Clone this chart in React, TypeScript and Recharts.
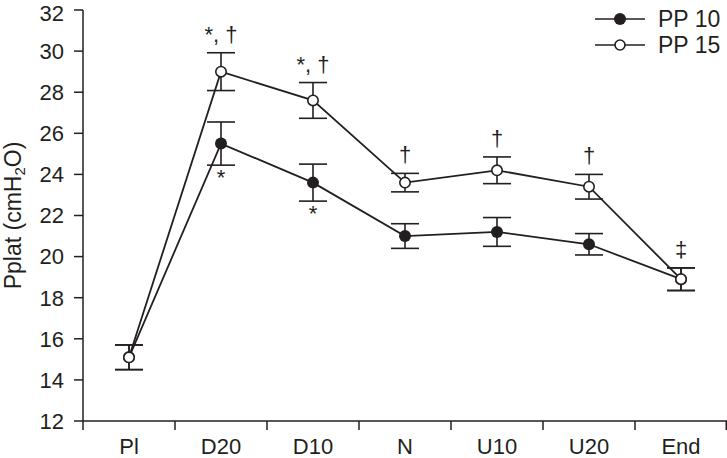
import { LineChart, Line, XAxis, YAxis, ErrorBar, LabelList, Label } from "recharts";

const categories = ["Pl", "D20", "D10", "N", "U10", "U20", "End"];
const pp10 = [15.1, 25.5, 23.6, 21.0, 21.2, 20.6, 18.9];
const pp10Err = [0.6, 1.05, 0.9, 0.6, 0.7, 0.52, 0.55];
const pp15 = [15.1, 29.0, 27.6, 23.6, 24.2, 23.4, 18.9];
const pp15Err = [0.6, 0.92, 0.87, 0.45, 0.65, 0.6, 0.55];
const sig10 = ["", "*", "*", "", "", "", ""];
const sig15 = ["", "*, †", "*, †", "†", "†", "†", "‡"];
const yTicks = [12, 14, 16, 18, 20, 22, 24, 26, 28, 30, 32];
const seriesNames = ["PP 10", "PP 15"];

const INK = "#231f20";
const FONT = "'Liberation Sans', Arial, sans-serif";
const TICK_GAP = 17;

const data = categories.map((cat, i) => ({
  cat,
  pp10: pp10[i],
  pp10Err: pp10Err[i],
  pp15: pp15[i],
  pp15Err: pp15Err[i],
  low10: pp10[i] - pp10Err[i],
  top15: pp15[i] + pp15Err[i],
  sig10: sig10[i],
  sig15: sig15[i],
}));

const FilledDot = (props: any) => {
  const { cx, cy } = props;
  return <circle cx={cx} cy={cy} r={6} fill={INK} stroke="none" />;
};

const OpenDot = (props: any) => {
  const { cx, cy } = props;
  return <circle cx={cx} cy={cy} r={5.2} fill="#fff" stroke={INK} strokeWidth={1.6} />;
};

// category label in the band centre, tick marks on the band edges
const CatTick = (props: any) => {
  const { x, y, payload, index, visibleTicksCount } = props;
  const half = payload.offset || 0;
  const axisY = y - TICK_GAP;
  const last = index === (visibleTicksCount ?? categories.length) - 1;
  return (
    <g>
      <line x1={x - half} y1={axisY} x2={x - half} y2={axisY + 9} stroke={INK} strokeWidth={1.5} />
      {last && <line x1={x + half - 0.75} y1={axisY} x2={x + half - 0.75} y2={axisY + 9} stroke={INK} strokeWidth={1.5} />}
      <text x={x} y={y} dy="0.71em" textAnchor="middle" fontSize={22} fontFamily={FONT} fill={INK}>
        {payload.value}
      </text>
    </g>
  );
};

const YLabel = (props: any) => {
  const { viewBox } = props;
  const cy = viewBox.y + viewBox.height / 2;
  const cx = 13;
  return (
    <text
      x={cx}
      y={cy}
      transform={`rotate(-90, ${cx}, ${cy})`}
      textAnchor="middle"
      dominantBaseline="central"
      fontSize={23}
      fontFamily={FONT}
      fill={INK}
    >
      Pplat (cmH
      <tspan fontSize={15} dy={6}>2</tspan>
      <tspan dy={-6}>O)</tspan>
    </text>
  );
};

function LegendBox() {
  return (
    <div style={{ position: "absolute", top: 6, left: 594, fontFamily: FONT, fontSize: 23, color: INK }}>
      {seriesNames.map((name, i) => (
        <div key={name} style={{ display: "flex", alignItems: "center", height: 26 }}>
          <svg width={52} height={20}>
            <line x1={1} y1={10} x2={51} y2={10} stroke={INK} strokeWidth={1.6} />
            {i === 0 ? (
              <circle cx={26} cy={10} r={6} fill={INK} />
            ) : (
              <circle cx={26} cy={10} r={5} fill="#fff" stroke={INK} strokeWidth={1.6} />
            )}
          </svg>
          <span style={{ marginLeft: 12 }}>{name}</span>
        </div>
      ))}
    </div>
  );
}

export default function App() {
  return (
    <div style={{ position: "absolute", left: 0, top: 0, width: 727, height: 458, background: "#fff" }}>
      <LineChart width={727} height={458} data={data} margin={{ top: 10, right: 0, left: 0, bottom: 0 }}>
        <XAxis
          xAxisId="cat"
          dataKey="cat"
          scale="band"
          axisLine={{ stroke: INK, strokeWidth: 1.5 }}
          tickLine={false}
          tickSize={0}
          tickMargin={TICK_GAP}
          height={37}
          interval={0}
          tick={<CatTick />}
        />
        <YAxis
          domain={[12, 32]}
          ticks={yTicks}
          width={83}
          tickSize={9}
          tickMargin={10}
          axisLine={{ stroke: INK, strokeWidth: 1.5 }}
          tickLine={{ stroke: INK, strokeWidth: 1.5 }}
          tick={{ fontSize: 22, fill: INK, fontFamily: FONT }}
        >
          <Label content={<YLabel />} />
        </YAxis>
        <Line
          xAxisId="cat"
          dataKey="pp10"
          stroke={INK}
          strokeWidth={1.8}
          dot={<FilledDot />}
          activeDot={false}
          isAnimationActive={false}
        >
          <ErrorBar dataKey="pp10Err" width={14} stroke={INK} strokeWidth={1.6} />
        </Line>
        <Line
          xAxisId="cat"
          dataKey="pp15"
          stroke={INK}
          strokeWidth={1.8}
          dot={<OpenDot />}
          activeDot={false}
          isAnimationActive={false}
        >
          <ErrorBar dataKey="pp15Err" width={14} stroke={INK} strokeWidth={1.6} />
        </Line>
        <Line
          xAxisId="cat"
          dataKey="top15"
          stroke="none"
          dot={false}
          activeDot={false}
          legendType="none"
          isAnimationActive={false}
        >
          <LabelList dataKey="sig15" position="top" offset={11} fontSize={22} fill={INK} fontFamily={FONT} />
        </Line>
        <Line
          xAxisId="cat"
          dataKey="low10"
          stroke="none"
          dot={false}
          activeDot={false}
          legendType="none"
          isAnimationActive={false}
        >
          <LabelList dataKey="sig10" position="bottom" offset={4} fontSize={22} fill={INK} fontFamily={FONT} />
        </Line>
      </LineChart>
      <LegendBox />
    </div>
  );
}
